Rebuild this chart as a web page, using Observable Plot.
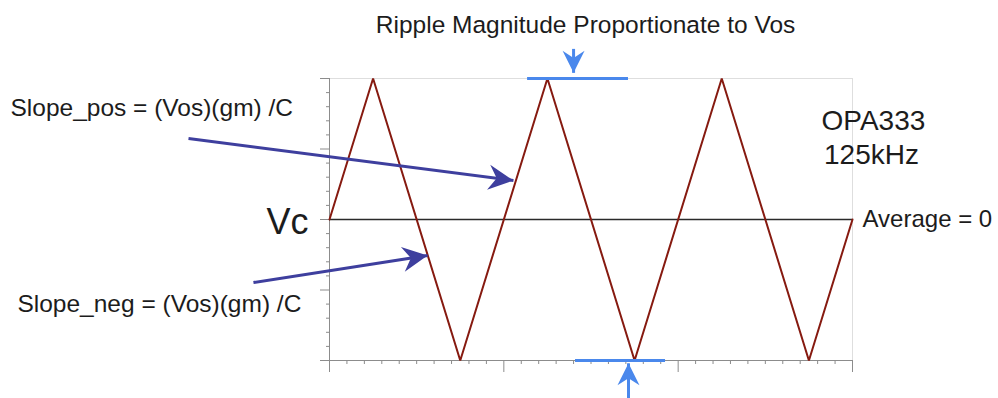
<!DOCTYPE html>
<html>
<head>
<meta charset="utf-8">
<script src="https://cdn.jsdelivr.net/npm/d3@7"></script>
<script src="https://cdn.jsdelivr.net/npm/@observablehq/plot@0.6"></script>
<style>
  html, body { margin: 0; padding: 0; background: #fff; }
  #chart svg { display: block; }
</style>
</head>
<body>
<div id="chart"></div>
<script>
// Integrator output of an auto-zero amplifier: triangular ripple around Vc.
// Time in µs (OPA333 chopping at 125 kHz, 8 µs period); amplitude normalized to the ripple peak.
const waveTime  = [0, 2, 6, 10, 14, 18, 22, 24];
const waveValue = [0, 1, -1, 1, -1, 1, -1, 0];

// Axis ticks (unlabelled): one major per chopping period, ten minors per period
const xMajorTicks = [0, 8, 16, 24];
const xMinorTicks = [0.8, 1.6, 2.4, 3.2, 4, 4.8, 5.6, 6.4, 7.2,
                     8.8, 9.6, 10.4, 11.2, 12, 12.8, 13.6, 14.4, 15.2,
                     16.8, 17.6, 18.4, 19.2, 20, 20.8, 21.6, 22.4, 23.2];
const yMajorTicks = [-1, -0.5, 0, 0.5, 1];
const yMinorTicks = [-0.9, -0.8, -0.7, -0.6, -0.4, -0.3, -0.2, -0.1,
                     0.1, 0.2, 0.3, 0.4, 0.6, 0.7, 0.8, 0.9];

// Annotation labels
const titleText   = "Ripple Magnitude Proportionate to Vos";
const slopePos    = "Slope_pos = (Vos)(gm) /C";
const slopeNeg    = "Slope_neg = (Vos)(gm) /C";
const nodeLabel   = "Vc";
const partLabel   = ["OPA333", "125kHz"];
const averageText = "Average = 0";

const wave = waveTime.map((t, i) => ({t, v: waveValue[i]}));

// Callout geometry, in data units (µs, normalized volts)
const rippleBars = [
  {x1: 9.09, x2: 13.72, y: 1},
  {x1: 11.29, x2: 15.42, y: -1}
];
const rippleArrows = [
  {x1: 11.2, y1: 1.21, x2: 11.2, y2: 1.04},
  {x1: 13.72, y1: -1.27, x2: 13.72, y2: -1.02}
];
const slopeArrows = [
  {x1: -6.47, y1: 0.574, x2: 8.44, y2: 0.277},
  {x1: -3.49, y1: -0.447, x2: 4.5, y2: -0.255}
];

const startNotes = [
  {x: -14.64, y: 0.79, text: slopePos, size: 24.5},
  {x: -14.32, y: -0.60, text: slopeNeg, size: 24.5},
  {x: 24.46, y: 0, text: averageText, size: 24}
];
const middleNotes = [
  {x: 11.75, y: 1.38, text: titleText, size: 24.5},
  {x: 24.96, y: 0.70, text: partLabel[0], size: 28},
  {x: 24.87, y: 0.46, text: partLabel[1], size: 28}
];
const endNotes = [
  {x: -0.96, y: -0.02, text: nodeLabel, size: 36}
];

// Plot frame
const width = 998, height = 398;
const frame = {left: 329, right: 852, top: 78, bottom: 360};
const xDomain = [0, 24], yDomain = [-1, 1];

// Same mappings as the plot's scales, used to orient arrowheads along their stems
const xPx = d3.scaleLinear(xDomain, [frame.left, frame.right]);
const yPx = d3.scaleLinear(yDomain, [frame.bottom, frame.top]);
const heading = d => {
  const dx = xPx(d.x2) - xPx(d.x1), dy = yPx(d.y2) - yPx(d.y1);
  return Math.atan2(dx, -dy) * 180 / Math.PI;
};

// Filled "stealth" arrowhead, pointing up with its tip at the origin
const stealthHead = {
  draw(context, size) {
    const r = Math.sqrt(size / Math.PI);
    context.moveTo(0, 0);
    context.lineTo(r, 2 * r);
    context.lineTo(0, 1.35 * r);
    context.lineTo(-r, 2 * r);
    context.closePath();
  }
};

const font = "Liberation Sans, Arial, Helvetica, sans-serif";
const textColor = "#1c1c1c";
const rippleBlue = "#4a88ec";
const slopeBlue = "#3e3f9e";
const axisGray = "#8c8c8c";

const chart = Plot.plot({
  width,
  height,
  marginLeft: frame.left,
  marginRight: width - frame.right,
  marginTop: frame.top,
  marginBottom: height - frame.bottom,
  x: {domain: xDomain, axis: null},
  y: {domain: yDomain, axis: null},
  style: {background: "#fff", overflow: "visible", fontFamily: font},
  marks: [
    // light plot-area border on top and right
    Plot.ruleY([1], {stroke: "#dedede", strokeWidth: 1}),
    Plot.ruleX([24], {stroke: "#dedede", strokeWidth: 1}),
    // axes
    Plot.axisX({ticks: xMinorTicks, tickSize: 4, tickFormat: () => "", label: null, stroke: axisGray}),
    Plot.axisX({ticks: xMajorTicks, tickSize: 12, tickFormat: () => "", label: null, stroke: axisGray}),
    Plot.axisY({ticks: yMinorTicks, tickSize: 3, tickFormat: () => "", label: null, stroke: axisGray}),
    Plot.axisY({ticks: yMajorTicks, tickSize: 9, tickFormat: () => "", label: null, stroke: axisGray}),
    Plot.ruleY([-1], {stroke: axisGray, strokeWidth: 1}),
    Plot.ruleX([0], {stroke: axisGray, strokeWidth: 1}),
    // average level
    Plot.ruleY([0], {x1: 0, x2: 24, stroke: "#2a2a2a", strokeWidth: 1.5}),
    // integrator ripple
    Plot.line(wave, {x: "t", y: "v", stroke: "#861a10", strokeWidth: 2, strokeLinejoin: "miter"}),
    // ripple magnitude markers
    Plot.ruleY(rippleBars, {x1: "x1", x2: "x2", y: "y", stroke: rippleBlue, strokeWidth: 3}),
    Plot.link(rippleArrows, {x1: "x1", x2: "x2", y1: "y1", y2: "y2", stroke: rippleBlue, strokeWidth: 3}),
    Plot.dot(rippleArrows, {
      x: "x2", y: "y2", r: 11, symbol: stealthHead, fill: rippleBlue, stroke: null, rotate: heading
    }),
    // slope callouts
    Plot.link(slopeArrows, {
      x1: "x1", y1: "y1", x2: "x2", y2: "y2", stroke: slopeBlue, strokeWidth: 3
    }),
    Plot.dot(slopeArrows, {
      x: "x2", y: "y2", r: 12.5, symbol: stealthHead, fill: slopeBlue, stroke: null, rotate: heading
    }),
    // labels
    Plot.text(startNotes, {x: "x", y: "y", text: "text", fontSize: d => d.size, textAnchor: "start", fill: textColor, fontFamily: font}),
    Plot.text(middleNotes, {x: "x", y: "y", text: "text", fontSize: d => d.size, textAnchor: "middle", fill: textColor, fontFamily: font}),
    Plot.text(endNotes, {x: "x", y: "y", text: "text", fontSize: d => d.size, textAnchor: "end", fill: textColor, fontFamily: font})
  ]
});

document.getElementById("chart").appendChild(chart);
</script>
</body>
</html>
